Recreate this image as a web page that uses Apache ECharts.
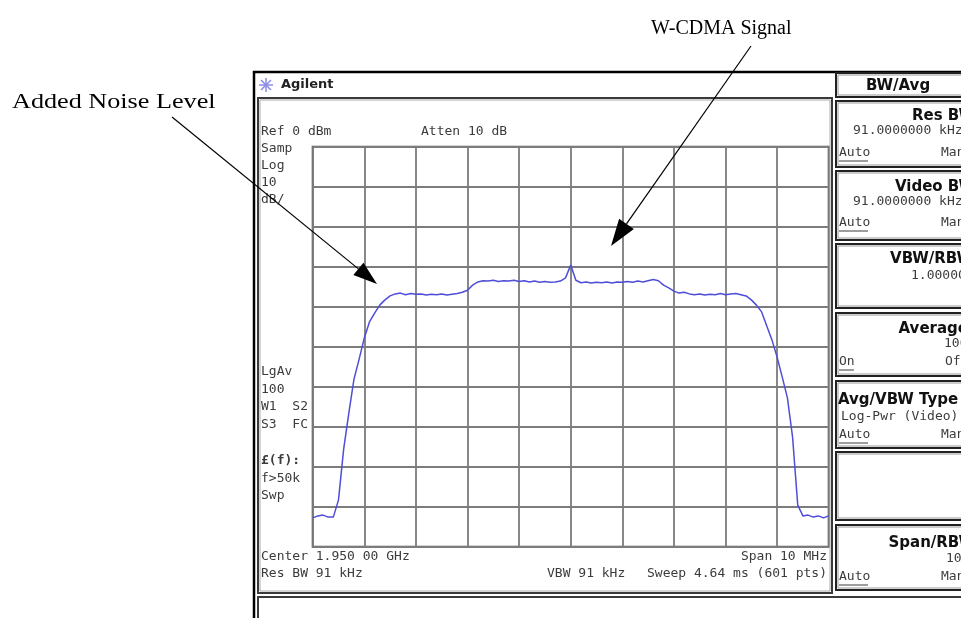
<!DOCTYPE html>
<html><head><meta charset="utf-8">
<script src="https://cdn.jsdelivr.net/npm/echarts@6/dist/echarts.min.js"></script>
<style>html,body{margin:0;padding:0;background:#fff}#c{width:961px;height:618px}</style>
</head><body><div id="c"></div>
<script>
// Frequency offset from 1.950 GHz centre (MHz), span 10 MHz
const freqMHz = [-5.0,-4.9,-4.8,-4.7,-4.6,-4.5,-4.4,-4.3,-4.2,-4.1,-4.0,-3.9,-3.8,-3.7,-3.6,-3.5,-3.4,-3.3,-3.2,-3.1,-3.0,-2.9,-2.8,-2.7,-2.6,-2.5,-2.4,-2.3,-2.2,-2.1,-2.0,-1.9,-1.8,-1.7,-1.6,-1.5,-1.4,-1.3,-1.2,-1.1,-1.0,-0.9,-0.8,-0.7,-0.6,-0.5,-0.4,-0.3,-0.2,-0.1,0.0,0.1,0.2,0.3,0.4,0.5,0.6,0.7,0.8,0.9,1.0,1.1,1.2,1.3,1.4,1.5,1.6,1.7,1.8,1.9,2.0,2.1,2.2,2.3,2.4,2.5,2.6,2.7,2.8,2.9,3.0,3.1,3.2,3.3,3.4,3.5,3.6,3.7,3.8,3.9,4.0,4.1,4.2,4.3,4.4,4.5,4.6,4.7,4.8,4.9,5.0];
// Trace level (dBm), Ref 0 dBm, 10 dB/div
const levelDbm = [-92.8,-92.3,-92.1,-92.6,-92.6,-88.3,-75.6,-66.6,-58.1,-53.1,-47.8,-43.8,-41.6,-39.6,-38.3,-37.3,-36.8,-36.6,-37.0,-36.7,-36.9,-36.8,-37.1,-36.9,-37.0,-36.8,-37.1,-36.9,-36.7,-36.4,-35.9,-34.6,-33.8,-33.5,-33.6,-33.4,-33.7,-33.5,-33.6,-33.4,-33.7,-33.5,-33.8,-33.6,-33.9,-33.7,-33.9,-33.8,-33.6,-32.8,-29.6,-33.4,-34.0,-33.8,-34.1,-33.9,-34.0,-33.8,-34.1,-33.8,-33.9,-33.7,-33.9,-33.6,-33.8,-33.5,-33.2,-33.5,-34.6,-35.3,-36.1,-36.6,-36.4,-36.8,-37.0,-36.8,-37.1,-36.9,-37.0,-36.7,-37.0,-36.8,-36.7,-37.0,-37.3,-38.3,-39.6,-41.3,-44.8,-48.3,-52.6,-57.6,-62.8,-72.6,-89.6,-92.3,-92.1,-92.6,-92.3,-92.8,-92.3];
const xTicks = [-5,-4,-3,-2,-1,0,1,2,3,4,5];
const yTicks = [0,-10,-20,-30,-40,-50,-60,-70,-80,-90,-100];

const leftLabels = ['Samp','Log','10','dB/'];
const midLabels = ['LgAv','100','W1  S2','S3  FC'];
const lowLabels = ['\u00a3(f):','f>50k','Swp'];

const chart = echarts.init(document.getElementById('c'), null, {renderer:'canvas'});
const MONO = '13px "DejaVu Sans Mono", monospace';
const SCR = '#3c3c3c';
function txt(t, x, y, font, fill, align, extra){
  return Object.assign({type:'text', z:20, style:{text:t, x:x, y:y, font:font||MONO, fill:fill||SCR,
    textAlign:align||'left', align:align||'left', textVerticalAlign:'middle', verticalAlign:'middle'}}, extra||{});
}
function rect(x,y,w,h,stroke,lw,fill){
  return {type:'rect', z:5, shape:{x:x,y:y,width:w,height:h}, style:{fill:fill||'none', stroke:stroke, lineWidth:lw}};
}
function line(x1,y1,x2,y2,stroke,lw,z){
  return {type:'line', z:z||10, shape:{x1:x1,y1:y1,x2:x2,y2:y2}, style:{stroke:stroke, lineWidth:lw}};
}
function arrow(x1,y1,x2,y2,len,hw){
  const dx=x2-x1, dy=y2-y1, L=Math.sqrt(dx*dx+dy*dy), ux=dx/L, uy=dy/L;
  const bx=x2-ux*len, by=y2-uy*len, px=-uy, py=ux;
  return [
    line(x1,y1,bx,by,'#000',1.2,30),
    {type:'polygon', z:30, shape:{points:[[x2,y2],[bx+px*hw,by+py*hw],[bx-px*hw,by-py*hw]]}, style:{fill:'#000'}}
  ];
}
const SANSB = 'bold 15px "DejaVu Sans", sans-serif';
const SERIF = '20px "Liberation Serif", serif';

const g = [];
// outer frame
g.push(rect(254,72,730,560,'#000',2.5));
// main display box
g.push(rect(258,98,574,495,'#3a3a3a',2));
g.push(rect(260,100,570,491,'#aaa',1));
// status box
g.push(rect(258,597,730,40,'#3a3a3a',2));
// right panel boxes
const panel = [[73,24],[101,66],[171,69],[244,64],[313,63],[381,67],[452,68],[525,65]];
panel.forEach(p=>{ g.push(rect(836,p[0],150,p[1],'#222',2)); g.push(rect(838,p[0]+2,150,p[1]-4,'#999',1)); });
// Agilent header
g.push(txt('Agilent',281,85,'bold 13px "DejaVu Sans", sans-serif','#222'));
const ic = '#8a8ae6';
g.push(line(261,80,271,90,ic,1.5), line(261,90,271,80,ic,1.5), line(266,78,266,92,ic,1.5), line(259,85,273,85,ic,1.5));
g.push(txt('BW/Avg',898,86,SANSB,'#111','center'));
// screen annotations
g.push(txt('Ref 0 dBm',261,132));
g.push(txt('Atten 10 dB',421,132));
leftLabels.forEach((t,i)=>g.push(txt(t,261,149+i*17)));
midLabels.forEach((t,i)=>g.push(txt(t,261,372+i*17.5)));
lowLabels.forEach((t,i)=>g.push(txt(t,261,461+i*17.5, i===0?'bold 13px "DejaVu Sans Mono", monospace':MONO)));
g.push(txt('Center 1.950 00 GHz',261,557));
g.push(txt('Span 10 MHz',827,557,MONO,SCR,'right'));
g.push(txt('Res BW 91 kHz',261,574));
g.push(txt('VBW 91 kHz',547,574));
g.push(txt('Sweep 4.64 ms (601 pts)',827,574,MONO,SCR,'right'));
// right soft keys
function key(t,x,y,align){ return txt(t,x,y,MONO,SCR,align); }
g.push(txt('Res BW',975,116,SANSB,'#111','right'));
g.push(key('91.0000000 kHz',853,131));
g.push(key('Auto',839,153), key('Man',941,153));
g.push(line(839,161,868,161,SCR,1));
g.push(txt('Video BW',975,187,SANSB,'#111','right'));
g.push(key('91.0000000 kHz',853,202));
g.push(key('Auto',839,223), key('Man',941,223));
g.push(line(839,231,868,231,SCR,1));
g.push(txt('VBW/RBW',973,259,SANSB,'#111','right'));
g.push(key('1.00000',911,276));
g.push(txt('Average',968,329,SANSB,'#111','right'));
g.push(key('100',944,344));
g.push(key('On',839,362), key('Off',945,362));
g.push(line(839,370,854,370,SCR,1));
g.push(txt('Avg/VBW Type',838,400,SANSB,'#111','left'));
g.push(key('Log-Pwr (Video)',841,417));
g.push(key('Auto',839,435), key('Man',941,435));
g.push(line(839,443,868,443,SCR,1));
g.push(txt('Span/RBW',975,543,SANSB,'#111','right'));
g.push(key('106',946,559));
g.push(key('Auto',839,577), key('Man',941,577));
g.push(line(839,585,868,585,SCR,1));
// callouts
g.push({type:'text', z:20, x:12, y:102, scaleX:1.19, style:{text:'Added Noise Level', x:0, y:0,
  font:'22px "Liberation Serif", serif', fill:'#000', textAlign:'left', align:'left', textVerticalAlign:'middle', verticalAlign:'middle'}});
g.push(txt('W-CDMA Signal',651,29,SERIF,'#000'));
arrow(172,117,377,284,24,8).forEach(e=>g.push(e));
arrow(751,46,611,246,27,9).forEach(e=>g.push(e));

const data = freqMHz.map((f,i)=>[f, levelDbm[i]]);
chart.setOption({
  animation:false,
  backgroundColor:'#fff',
  grid:{left:312.7, top:146.7, width:516, height:400, show:true, borderColor:'#555', borderWidth:2, backgroundColor:'transparent'},
  xAxis:{type:'value', min:xTicks[0], max:xTicks[xTicks.length-1], interval:1,
    axisLine:{show:false}, axisTick:{show:false}, axisLabel:{show:false},
    splitLine:{show:true, lineStyle:{color:'#7c7c7c', width:1.8}}},
  yAxis:{type:'value', min:yTicks[yTicks.length-1], max:yTicks[0], interval:10,
    axisLine:{show:false}, axisTick:{show:false}, axisLabel:{show:false},
    splitLine:{show:true, lineStyle:{color:'#7c7c7c', width:1.8}}},
  series:[{type:'line', data:data, showSymbol:false, smooth:false, z:10,
    lineStyle:{color:'#4e4ed8', width:1.5}}],
  graphic:{elements:g}
});
</script>
</body></html>
